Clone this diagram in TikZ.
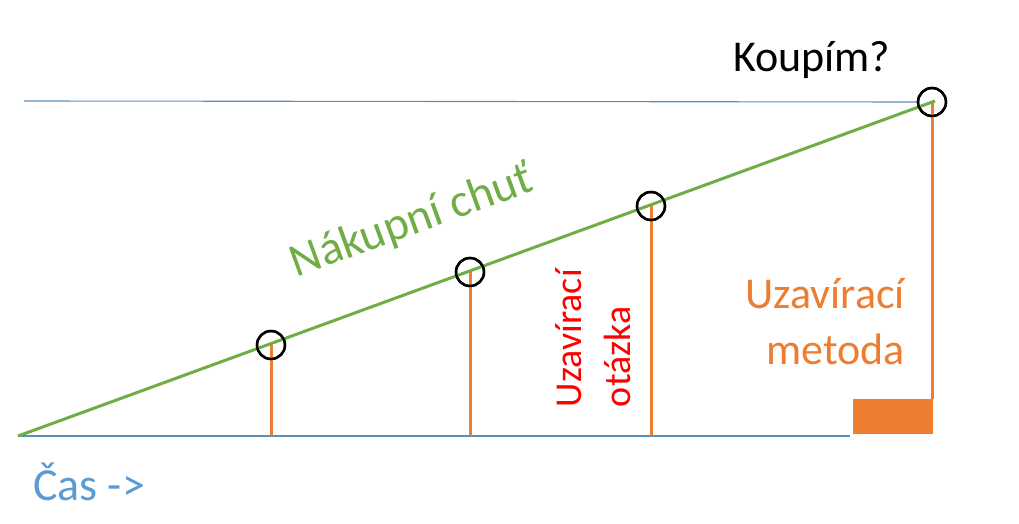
\documentclass[tikz,border=0pt]{standalone}
\usepackage{fontspec}
\setmainfont{Carlito}
\definecolor{cgreen}{HTML}{70AD47}
\definecolor{corange}{HTML}{ED7D31}
\definecolor{cblue}{HTML}{5B9BD5}
\definecolor{cline}{HTML}{5B8DBE}
\begin{document}
\begin{tikzpicture}[x=1pt,y=-1pt,
  guide/.style={draw=cline,line width=1.1pt},
  bar/.style={draw=corange,line width=3pt},
  mark circle/.style={circle,draw=black,line width=2.4pt,minimum size=28pt,inner sep=0pt},
  lbl/.style={inner sep=0pt,outer sep=0pt}]
\useasboundingbox (0,0) rectangle (1019,524);
% points
\coordinate (o) at (18,436);
\coordinate (e) at (935,101);
\coordinate (tl) at (24,101);
\coordinate (bl) at (18,436);
\coordinate (br) at (850,436);
\node[mark circle] (c1) at (271,345) {};
\node[mark circle] (c2) at (470,272) {};
\node[mark circle] (c3) at (651,206) {};
\node[mark circle] (c4) at (932,102) {};
\coordinate (b1) at (271,436);
\coordinate (b2) at (470,436);
\coordinate (b3) at (651,436);
\node[fill=corange,minimum width=80pt,minimum height=35pt,inner sep=0pt,anchor=north west] (box) at (853,399) {};
% guides
\draw[guide] (tl) -- (c4.west);
\draw[guide] (bl) -- (br);
% bars
\draw[bar] (c1.center) -- (b1);
\draw[bar] (c2.center) -- (b2);
\draw[bar] (c3.center) -- (b3);
\draw[bar] (c4.center) -- (box.north east -| c4.center);
% green line
\draw[cgreen,line width=3pt] (o) -- (e);
% circles on top
\foreach \c in {c1,c2,c3,c4} \draw[black,line width=2.4pt] (\c) circle (14pt);
% texts
\node[lbl,anchor=base west,font=\fontsize{44}{52}\selectfont] (koupim) at (733,72) {Koupím?};
\node[lbl,text=cgreen,rotate=20,font=\fontsize{47}{56}\selectfont] (chut) at (412,222) {Nákupní chuť};
\node[lbl,text=cblue,anchor=base west,font=\fontsize{46}{54}\selectfont] (cas) at (33,500) {Čas ->};
\node[lbl,text=corange,anchor=base east,font=\fontsize{44}{52}\selectfont] (um1) at (905,308) {Uzavírací};
\node[lbl,text=corange,anchor=base east,font=\fontsize{44}{52}\selectfont] (um2) at (905,364) {metoda};
\node[lbl,text=red,rotate=90,anchor=base west,font=\fontsize{38}{46}\selectfont] (uo1) at (581,407) {Uzavírací};
\node[lbl,text=red,rotate=90,anchor=base west,font=\fontsize{38}{46}\selectfont] (uo2) at (630,407) {otázka};
\end{tikzpicture}
\end{document}
